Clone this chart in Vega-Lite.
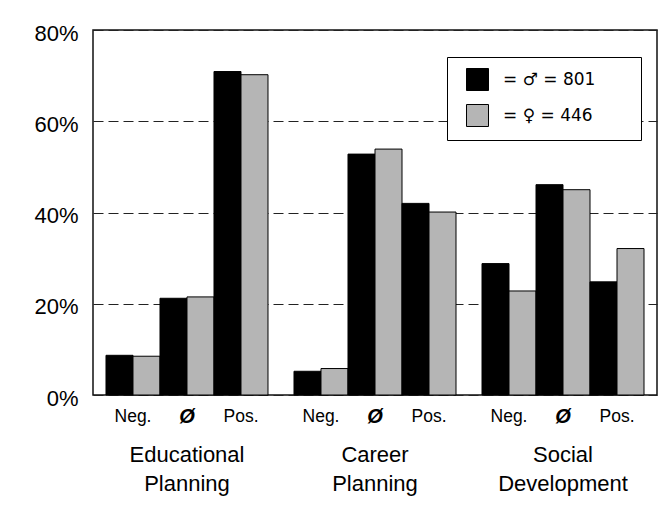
{
  "$schema": "https://vega.github.io/schema/vega-lite/v6.json",
  "width": 564,
  "height": 365,
  "autosize": {"type": "none"},
  "padding": {"left": 93, "top": 30, "right": 15, "bottom": 123},
  "background": "white",
  "config": {
    "font": "Liberation Sans",
    "view": {"stroke": "#111111", "strokeWidth": 1.5},
    "axisX": {"domain": false, "ticks": false, "grid": false, "labelFontSize": 22, "labelColor": "black", "labelPadding": 49, "labelLineHeight": 29, "labelAngle": 0, "labelExpr": "split(datum.label, ' ')"},
    "axisY": {"domain": false, "ticks": false, "grid": true, "gridColor": "#222222", "gridDash": [10, 5], "gridWidth": 1, "labelFontSize": 22, "labelColor": "black", "labelPadding": 15, "labelOffset": 3, "labelExpr": "datum.value + '%'", "labelOverlap": false, "labelFlush": false}
  },
  "datasets": {
    "bars": [
      {"group": "Educational Planning", "cat": "Neg.", "sex": "male", "bar": "Neg.-M", "value": 8.7},
      {"group": "Educational Planning", "cat": "Neg.", "sex": "female", "bar": "Neg.-F", "value": 8.5},
      {"group": "Educational Planning", "cat": "Ø", "sex": "male", "bar": "Ø-M", "value": 21.2},
      {"group": "Educational Planning", "cat": "Ø", "sex": "female", "bar": "Ø-F", "value": 21.5},
      {"group": "Educational Planning", "cat": "Pos.", "sex": "male", "bar": "Pos.-M", "value": 70.9},
      {"group": "Educational Planning", "cat": "Pos.", "sex": "female", "bar": "Pos.-F", "value": 70.2},
      {"group": "Career Planning", "cat": "Neg.", "sex": "male", "bar": "Neg.-M", "value": 5.2},
      {"group": "Career Planning", "cat": "Neg.", "sex": "female", "bar": "Neg.-F", "value": 5.8},
      {"group": "Career Planning", "cat": "Ø", "sex": "male", "bar": "Ø-M", "value": 52.8},
      {"group": "Career Planning", "cat": "Ø", "sex": "female", "bar": "Ø-F", "value": 53.9},
      {"group": "Career Planning", "cat": "Pos.", "sex": "male", "bar": "Pos.-M", "value": 42.0},
      {"group": "Career Planning", "cat": "Pos.", "sex": "female", "bar": "Pos.-F", "value": 40.1},
      {"group": "Social Development", "cat": "Neg.", "sex": "male", "bar": "Neg.-M", "value": 28.8},
      {"group": "Social Development", "cat": "Neg.", "sex": "female", "bar": "Neg.-F", "value": 22.8},
      {"group": "Social Development", "cat": "Ø", "sex": "male", "bar": "Ø-M", "value": 46.1},
      {"group": "Social Development", "cat": "Ø", "sex": "female", "bar": "Ø-F", "value": 45.0},
      {"group": "Social Development", "cat": "Pos.", "sex": "male", "bar": "Pos.-M", "value": 24.8},
      {"group": "Social Development", "cat": "Pos.", "sex": "female", "bar": "Pos.-F", "value": 32.1}
    ],
    "labels": [
      {"group": "Educational Planning", "cat": "Neg.", "bar": "Neg.-M"},
      {"group": "Educational Planning", "cat": "Ø", "bar": "Ø-M"},
      {"group": "Educational Planning", "cat": "Pos.", "bar": "Pos.-M"},
      {"group": "Career Planning", "cat": "Neg.", "bar": "Neg.-M"},
      {"group": "Career Planning", "cat": "Ø", "bar": "Ø-M"},
      {"group": "Career Planning", "cat": "Pos.", "bar": "Pos.-M"},
      {"group": "Social Development", "cat": "Neg.", "bar": "Neg.-M"},
      {"group": "Social Development", "cat": "Ø", "bar": "Ø-M"},
      {"group": "Social Development", "cat": "Pos.", "bar": "Pos.-M"}
    ]
  },
  "layer": [
    {
      "data": {"name": "bars"},
      "mark": {"type": "bar", "stroke": "black", "strokeWidth": 1},
      "encoding": {
        "x": {"field": "group", "type": "nominal", "title": null, "sort": ["Educational Planning", "Career Planning", "Social Development"], "scale": {"paddingInner": 0.1383, "paddingOuter": 0.0691}},
        "xOffset": {"field": "bar", "type": "nominal", "sort": ["Neg.-M", "Neg.-F", "Ø-M", "Ø-F", "Pos.-M", "Pos.-F"], "scale": {"paddingInner": 0, "paddingOuter": 0}},
        "y": {"field": "value", "type": "quantitative", "title": null, "scale": {"domain": [0, 80], "nice": false}, "axis": {"values": [0, 20, 40, 60, 80]}},
        "fill": {
          "field": "sex", "type": "nominal",
          "scale": {"domain": ["male", "female"], "range": ["#000000", "#b5b5b5"]},
          "legend": {"orient": "none", "legendX": 354, "legendY": 27, "title": null, "direction": "vertical", "symbolType": "square", "symbolSize": 484, "symbolStrokeColor": "black", "symbolStrokeWidth": 1, "strokeColor": "black", "fillColor": "white", "padding": 11, "rowPadding": 9, "labelFont": "DejaVu Sans", "labelFontSize": 17, "labelColor": "black", "labelOffset": 14, "symbolOffset": 8, "labelExpr": "datum.label == 'male' ? '= ♂\ufe0e = 801\u2003\u2003\u200b' : '= ♀\ufe0e = 446\u2003\u2003\u200b'"}
        }
      }
    },
    {
      "data": {"name": "labels"},
      "transform": [{"filter": "datum.cat != 'Ø'"}],
      "mark": {"type": "text", "dx": 13.5, "dy": 22, "fontSize": 17.5, "baseline": "middle", "align": "center", "color": "black"},
      "encoding": {
        "x": {"field": "group", "type": "nominal", "title": null, "sort": ["Educational Planning", "Career Planning", "Social Development"]},
        "xOffset": {"field": "bar", "type": "nominal", "sort": ["Neg.-M", "Neg.-F", "Ø-M", "Ø-F", "Pos.-M", "Pos.-F"]},
        "y": {"datum": 0, "type": "quantitative", "title": null},
        "text": {"field": "cat"}
      }
    },
    {
      "data": {"name": "labels"},
      "transform": [{"filter": "datum.cat == 'Ø'"}],
      "mark": {"type": "text", "dx": 13.5, "dy": 22, "fontSize": 20, "fontWeight": "bold", "fontStyle": "italic", "baseline": "middle", "align": "center", "color": "black"},
      "encoding": {
        "x": {"field": "group", "type": "nominal", "title": null, "sort": ["Educational Planning", "Career Planning", "Social Development"]},
        "xOffset": {"field": "bar", "type": "nominal", "sort": ["Neg.-M", "Neg.-F", "Ø-M", "Ø-F", "Pos.-M", "Pos.-F"]},
        "y": {"datum": 0, "type": "quantitative", "title": null},
        "text": {"field": "cat"}
      }
    }
  ]
}
